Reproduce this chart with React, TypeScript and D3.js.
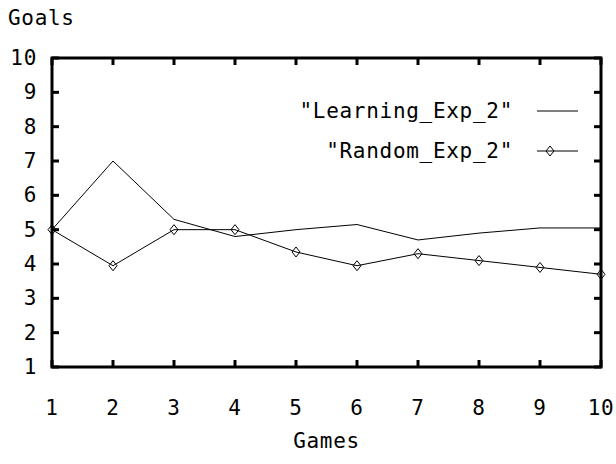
import React from "react";
import * as d3 from "d3";

const games = [1, 2, 3, 4, 5, 6, 7, 8, 9, 10];
const learning = [5.0, 7.0, 5.3, 4.8, 5.0, 5.15, 4.7, 4.9, 5.05, 5.05];
const randomExp = [5.0, 3.95, 5.0, 5.0, 4.35, 3.95, 4.3, 4.1, 3.9, 3.7];
const yTicks = [1, 2, 3, 4, 5, 6, 7, 8, 9, 10];
const xTicks = [1, 2, 3, 4, 5, 6, 7, 8, 9, 10];
const seriesNames = ['"Learning_Exp_2"', '"Random_Exp_2"'];

const W = 616;
const H = 464;
const L = 52, R = 601, T = 58, B = 367;
const FONT = "'DejaVu Sans Mono', monospace";

export default function App() {
  const x = d3.scaleLinear().domain([1, 10]).range([L, R]);
  const y = d3.scaleLinear().domain([1, 10]).range([B, T]);
  const line = d3
    .line<number>()
    .x((_, i) => x(games[i]))
    .y((d) => y(d));
  const diamond = (cx: number, cy: number) =>
    `M${cx},${cy - 5}L${cx + 4},${cy}L${cx},${cy + 5}L${cx - 4},${cy}Z`;
  const tickLen = 7;
  const textStyle = { fontFamily: FONT, fontSize: 21, letterSpacing: 0.7, fill: "#000" } as const;

  return (
    <svg width={W} height={H} style={{ position: "absolute", left: 0, top: 0, background: "#fff" }}>
      <rect x={0} y={0} width={W} height={H} fill="#fff" />
      {/* data */}
      <path d={line(learning) || ""} fill="none" stroke="#000" strokeWidth={1} />
      <path d={line(randomExp) || ""} fill="none" stroke="#000" strokeWidth={1} />
      {randomExp.map((v, i) => (
        <path key={i} d={diamond(x(games[i]), y(v))} fill="none" stroke="#000" strokeWidth={1} />
      ))}
      {/* ticks */}
      {yTicks.map((t) => (
        <g key={"y" + t}>
          <line x1={L} x2={L + tickLen} y1={y(t)} y2={y(t)} stroke="#000" strokeWidth={3} />
          <line x1={R} x2={R - tickLen} y1={y(t)} y2={y(t)} stroke="#000" strokeWidth={3} />
          <text x={37} y={y(t)} textAnchor="end" dominantBaseline="central" style={textStyle}>
            {t}
          </text>
        </g>
      ))}
      {xTicks.map((t) => (
        <g key={"x" + t}>
          <line x1={x(t)} x2={x(t)} y1={B} y2={B - tickLen} stroke="#000" strokeWidth={3} />
          <line x1={x(t)} x2={x(t)} y1={T} y2={T + tickLen} stroke="#000" strokeWidth={3} />
          <text x={x(t)} y={408} textAnchor="middle" dominantBaseline="central" style={textStyle}>
            {t}
          </text>
        </g>
      ))}
      {/* frame */}
      <rect x={L} y={T} width={R - L} height={B - T} fill="none" stroke="#000" strokeWidth={3} />
      {/* legend */}
      <text x={513} y={111} textAnchor="end" dominantBaseline="central" style={textStyle}>
        {seriesNames[0]}
      </text>
      <line x1={537} x2={578} y1={111} y2={111} stroke="#000" strokeWidth={1} />
      <text x={513} y={151} textAnchor="end" dominantBaseline="central" style={textStyle}>
        {seriesNames[1]}
      </text>
      <line x1={537} x2={578} y1={151} y2={151} stroke="#000" strokeWidth={1} />
      <path d={diamond(550, 151)} fill="none" stroke="#000" strokeWidth={1} />
      {/* axis titles */}
      <text x={8} y={18} dominantBaseline="central" style={textStyle}>
        Goals
      </text>
      <text x={(L + R) / 2} y={441} textAnchor="middle" dominantBaseline="central" style={textStyle}>
        Games
      </text>
    </svg>
  );
}
